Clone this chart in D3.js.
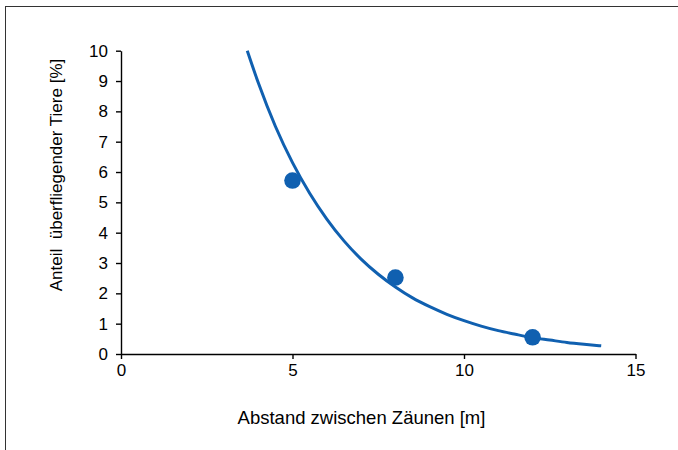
<!DOCTYPE html>
<html><head><meta charset="utf-8">
<script src="https://cdn.jsdelivr.net/npm/d3@7"></script>
<style>html,body{margin:0;padding:0;background:#fff;}svg{display:block;}</style>
</head><body>
<svg id="c" width="678" height="450"></svg>
<script>
// Measured points
const pointX = [5, 8, 12];
const pointY = [5.72, 2.52, 0.55];
// Trend line
const trendX = [3.68, 4.0, 4.5, 5.0, 5.5, 6.0, 6.5, 7.0, 7.5, 8.0, 8.5, 9.0, 9.5, 10.0, 10.5, 11.0, 11.5, 12.0, 12.5, 13.0, 13.5, 14.0];
const trendY = [10, 8.95, 7.51, 6.31, 5.30, 4.45, 3.73, 3.13, 2.63, 2.21, 1.85, 1.56, 1.31, 1.10, 0.92, 0.77, 0.65, 0.54, 0.46, 0.38, 0.32, 0.27];
const xTicks = [0, 5, 10, 15];
const yTicks = [0, 1, 2, 3, 4, 5, 6, 7, 8, 9, 10];
const xTitle = "Abstand zwischen Zäunen [m]";
const yTitle = "Anteil  überfliegender Tiere [%]";

const svg = d3.select("#c");
const font = "'Liberation Sans', Arial, sans-serif";
const blue = "#1060b0";

svg.append("rect").attr("x", 5.5).attr("y", 6.5).attr("width", 700).attr("height", 500)
  .attr("fill", "none").attr("stroke", "#333").attr("stroke-width", 1);

const x = d3.scaleLinear().domain([0, 15]).range([121, 635.5]);
const y = d3.scaleLinear().domain([0, 10]).range([354, 50.7]);

const xa = svg.append("g").attr("transform", `translate(0,${y(0)})`)
  .call(d3.axisBottom(x).tickValues(xTicks).tickSize(5).tickPadding(5).tickSizeOuter(0));
const ya = svg.append("g").attr("transform", `translate(${x(0)},0)`)
  .call(d3.axisLeft(y).tickValues(yTicks).tickSize(5).tickPadding(8).tickSizeOuter(0));
[xa, ya].forEach(g => {
  g.select(".domain").attr("stroke", "#000").attr("stroke-width", 1.4);
  g.selectAll(".tick line").attr("stroke", "#000").attr("stroke-width", 1.4);
  g.selectAll("text").attr("font-family", font).attr("font-size", 17).attr("fill", "#000");
});

const trend = trendX.map((v, i) => [v, trendY[i]]);
svg.append("path").datum(trend)
  .attr("d", d3.line().x(d => x(d[0])).y(d => y(d[1])).curve(d3.curveMonotoneX))
  .attr("fill", "none").attr("stroke", blue).attr("stroke-width", 3);

svg.selectAll("circle.pt").data(pointX.map((v, i) => [v, pointY[i]])).enter()
  .append("circle").attr("class", "pt")
  .attr("cx", d => x(d[0])).attr("cy", d => y(d[1])).attr("r", 8.3)
  .attr("fill", blue);

svg.append("text").attr("x", 361.5).attr("y", 424).attr("text-anchor", "middle")
  .attr("font-family", font).attr("font-size", 18.5).attr("fill", "#000").text(xTitle);
svg.append("text").attr("transform", "translate(62,175) rotate(-90)").attr("text-anchor", "middle")
  .attr("font-family", font).attr("font-size", 17).attr("fill", "#000")
  .style("white-space", "pre").text(yTitle);
</script>
</body></html>
